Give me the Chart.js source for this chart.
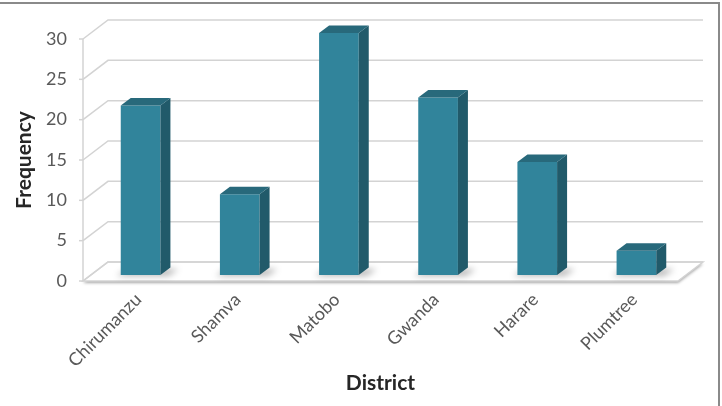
<!DOCTYPE html>
<html>
<head>
<meta charset="utf-8">
<script src="https://cdn.jsdelivr.net/npm/chart.js@4.4.1/dist/chart.umd.min.js"></script>
<style>
  html, body { margin: 0; padding: 0; background: #fff; }
  #wrap { width: 722px; height: 406px; position: relative; }
</style>
</head>
<body>
<div id="wrap"><canvas id="districtChart" width="722" height="406"></canvas></div>
<script>
// data
const districts = ['Chirumanzu', 'Shamva', 'Matobo', 'Gwanda', 'Harare', 'Plumtree'];
const frequency = [21, 10, 30, 22, 14, 3];
const yTickValues = [0, 5, 10, 15, 20, 25, 30];

// 3d look
const DEPTH_X = 25, DEPTH_Y = -19;     // wall depth
const BAR_DX = 8, BAR_DY = -6;         // bars sit a bit behind the front edge
const SIDE_X = 10, SIDE_Y = -7.5;      // bar thickness
const FRONT = '#31849b', SIDE = '#215a6a', TOP = '#28697b';
const GRID = '#d3d3d3';

const frame3d = {
  id: 'frame3d',
  beforeDraw(chart) {
    const ctx = chart.ctx;
    ctx.save();
    ctx.fillStyle = '#fff';
    ctx.fillRect(0, 0, chart.width, chart.height);
    // outer frame (top + right visible)
    ctx.strokeStyle = '#8a8a8a';
    ctx.lineWidth = 2;
    ctx.beginPath();
    ctx.moveTo(0, 3); ctx.lineTo(719, 3); ctx.lineTo(719, chart.height);
    ctx.stroke();
    ctx.restore();
  },
  beforeDatasetsDraw(chart) {
    const ctx = chart.ctx;
    const a = chart.chartArea;
    const y = chart.scales.y;
    const y0 = y.getPixelForValue(0);
    ctx.save();
    // floor
    ctx.fillStyle = '#fff';
    ctx.beginPath();
    ctx.moveTo(a.left, y0);
    ctx.lineTo(a.right, y0);
    ctx.lineTo(a.right + DEPTH_X, y0 + DEPTH_Y);
    ctx.lineTo(a.left + DEPTH_X, y0 + DEPTH_Y);
    ctx.closePath();
    ctx.shadowColor = 'rgba(0,0,0,0.35)';
    ctx.shadowBlur = 3;
    ctx.shadowOffsetY = 2;
    ctx.fill();
    ctx.shadowColor = 'transparent';
    ctx.strokeStyle = GRID;
    ctx.lineWidth = 1.5;
    ctx.stroke();
    // walls
    ctx.strokeStyle = GRID;
    ctx.lineWidth = 1.5;
    yTickValues.forEach(v => {
      const py = y.getPixelForValue(v);
      ctx.beginPath();
      ctx.moveTo(a.left, py);
      ctx.lineTo(a.left + DEPTH_X, py + DEPTH_Y);
      ctx.lineTo(a.right + DEPTH_X, py + DEPTH_Y);
      ctx.stroke();
      // tick mark
      ctx.beginPath();
      ctx.moveTo(a.left - 4, py);
      ctx.lineTo(a.left, py);
      ctx.stroke();
    });
    ctx.beginPath();
    ctx.moveTo(a.left, y.getPixelForValue(yTickValues[yTickValues.length - 1]));
    ctx.lineTo(a.left, y0);
    ctx.stroke();
    ctx.restore();

    // bars go slightly back into the box
    ctx.save();
    ctx.translate(BAR_DX, BAR_DY);
    const meta = chart.getDatasetMeta(0);
    ctx.fillStyle = 'rgba(0,0,0,0.28)';
    ctx.filter = 'blur(3px)';
    meta.data.forEach(el => {
      const p = el.getProps(['x', 'base', 'width'], true);
      const l = p.x - p.width / 2, r = p.x + p.width / 2;
      ctx.beginPath();
      ctx.moveTo(l - 4, p.base + 1);
      ctx.lineTo(r + 8, p.base + 1);
      ctx.lineTo(r + 18, p.base - 6);
      ctx.lineTo(l + 6, p.base - 6);
      ctx.closePath();
      ctx.fill();
    });
    ctx.filter = 'none';
  },
  afterDatasetsDraw(chart) {
    const ctx = chart.ctx;
    const meta = chart.getDatasetMeta(0);
    meta.data.forEach(el => {
      const p = el.getProps(['x', 'y', 'base', 'width'], true);
      const l = p.x - p.width / 2, r = p.x + p.width / 2;
      ctx.fillStyle = SIDE;
      ctx.beginPath();
      ctx.moveTo(r, p.y);
      ctx.lineTo(r + SIDE_X, p.y + SIDE_Y);
      ctx.lineTo(r + SIDE_X, p.base + SIDE_Y);
      ctx.lineTo(r, p.base);
      ctx.closePath();
      ctx.fill();
      ctx.fillStyle = TOP;
      ctx.beginPath();
      ctx.moveTo(l, p.y);
      ctx.lineTo(r, p.y);
      ctx.lineTo(r + SIDE_X, p.y + SIDE_Y);
      ctx.lineTo(l + SIDE_X, p.y + SIDE_Y);
      ctx.closePath();
      ctx.fill();
    });
    ctx.restore();
  }
};

const tickFont = { family: 'Lato', size: 18 };
const titleFont = { family: 'Lato', size: 21, weight: 'bold' };

new Chart(document.getElementById('districtChart'), {
  type: 'bar',
  data: {
    labels: districts,
    datasets: [{
      label: 'Frequency',
      data: frequency,
      backgroundColor: FRONT,
      borderWidth: 0,
      categoryPercentage: 1.0,
      barPercentage: 0.4,
      clip: false
    }]
  },
  options: {
    responsive: false,
    animation: false,
    events: [],
    layout: { padding: { top: 39, right: 44, left: 0, bottom: 0 } },
    plugins: { legend: { display: false }, tooltip: { enabled: false } },
    scales: {
      x: {
        grid: { display: false },
        border: { display: false },
        ticks: {
          color: '#595959', font: tickFont,
          minRotation: 45, maxRotation: 45,
          labelOffset: 6, padding: 0
        },
        title: {
          display: true, text: 'District', color: '#262626', font: titleFont,
          padding: { top: 0, bottom: 10 }
        },
        afterFit(s) { s.height = 125; }
      },
      y: {
        min: yTickValues[0],
        max: yTickValues[yTickValues.length - 1],
        grid: { display: false },
        border: { display: false },
        ticks: { stepSize: 5, color: '#595959', font: tickFont, padding: 8 },
        title: {
          display: true, text: 'Frequency', color: '#262626', font: titleFont,
          padding: { top: 12, bottom: 0 }
        },
        afterFit(s) { s.width = 83; }
      }
    }
  },
  plugins: [frame3d]
});
</script>
</body>
</html>
